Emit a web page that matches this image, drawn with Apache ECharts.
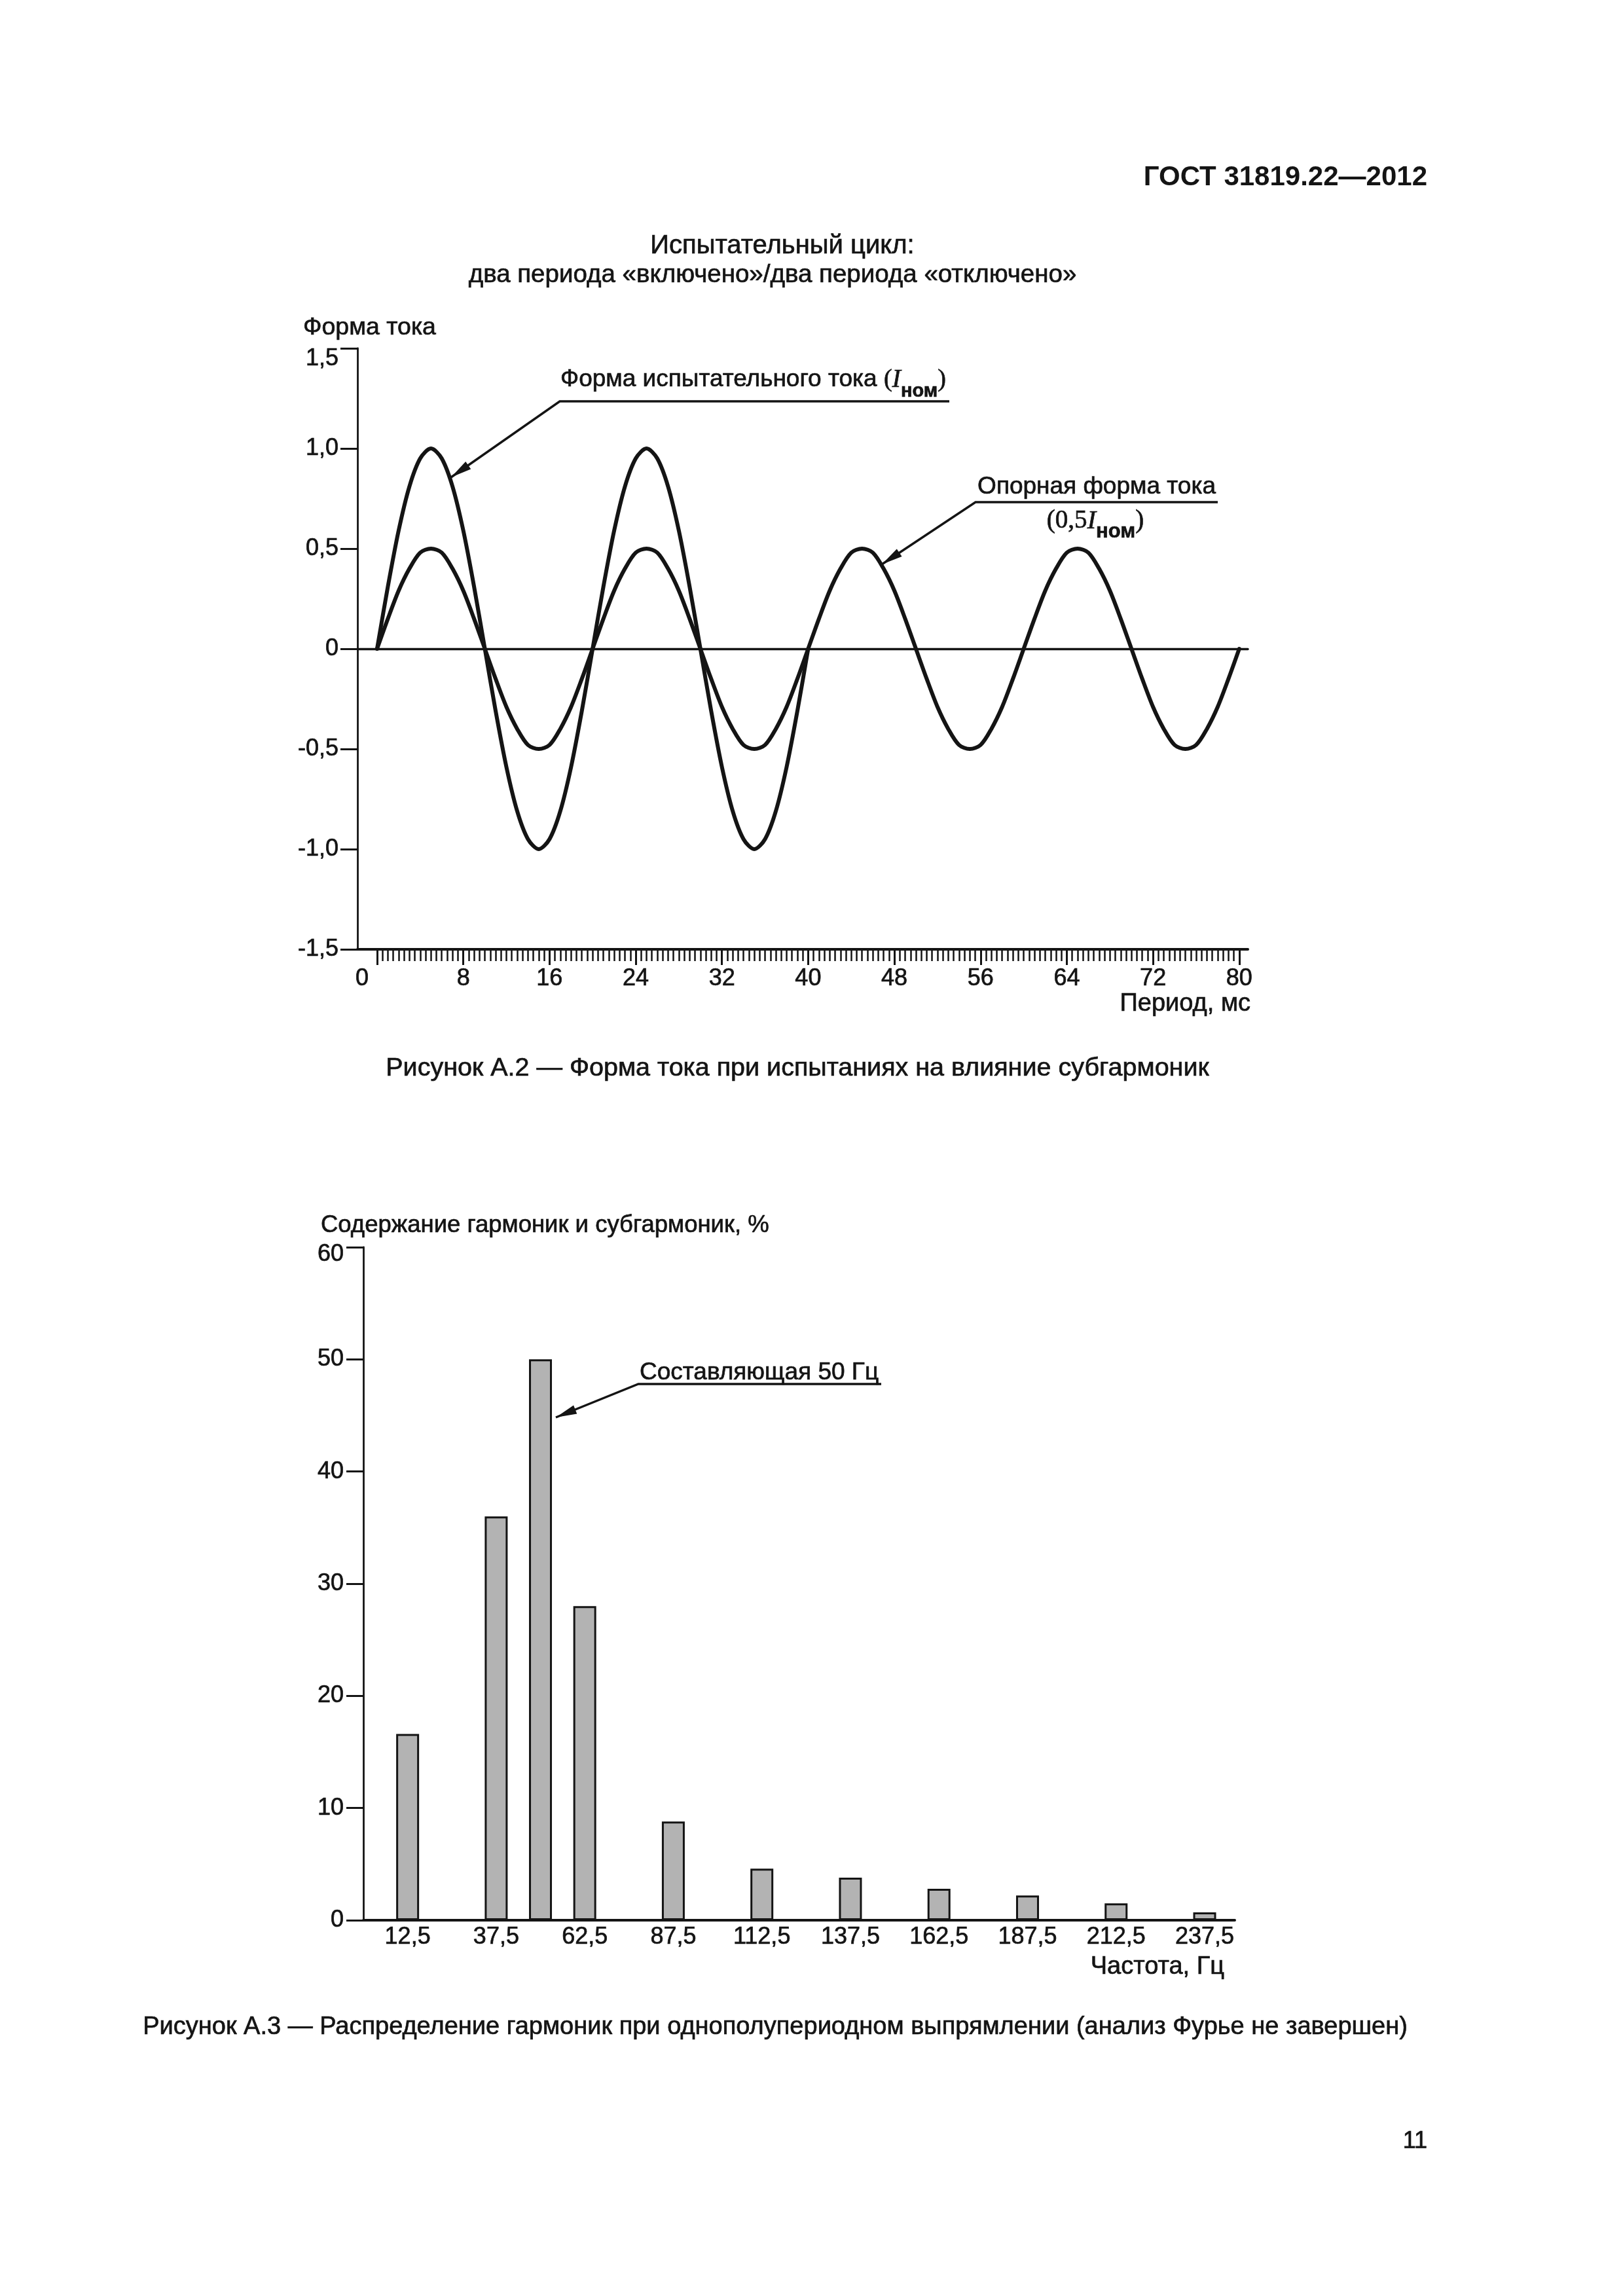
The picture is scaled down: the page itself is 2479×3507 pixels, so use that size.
<!DOCTYPE html>
<html><head><meta charset="utf-8">
<script src="https://cdn.jsdelivr.net/npm/echarts@6/dist/echarts.min.js"></script>
<style>html,body{margin:0;padding:0;background:#fff}#c{width:2479px;height:3507px}</style>
</head><body><div id="c"></div>
<script>
// ---------- Figure A.2 data ----------
const timeMs = [0,1,2,3,4,5,6,7,8,9,10,11,12,13,14,15,16,17,18,19,20,21,22,23,24,25,26,27,28,29,30,31,32,33,34,35,36,37,38,39,40,41,42,43,44,45,46,47,48,49,50,51,52,53,54,55,56,57,58,59,60,61,62,63,64,65,66,67,68,69,70,71,72,73,74,75,76,77,78,79,80];
// test current (I_nom): two periods "on", then "off"
const testCurrent = [0,0.31,0.59,0.81,0.95,1,0.95,0.81,0.59,0.31,0,-0.31,-0.59,-0.81,-0.95,-1,-0.95,-0.81,-0.59,-0.31,
  0,0.31,0.59,0.81,0.95,1,0.95,0.81,0.59,0.31,0,-0.31,-0.59,-0.81,-0.95,-1,-0.95,-0.81,-0.59,-0.31,0];
// reference current (0,5 I_nom)
const refCurrent = [0,0.15,0.29,0.4,0.48,0.5,0.48,0.4,0.29,0.15,0,-0.15,-0.29,-0.4,-0.48,-0.5,-0.48,-0.4,-0.29,-0.15,
  0,0.15,0.29,0.4,0.48,0.5,0.48,0.4,0.29,0.15,0,-0.15,-0.29,-0.4,-0.48,-0.5,-0.48,-0.4,-0.29,-0.15,
  0,0.15,0.29,0.4,0.48,0.5,0.48,0.4,0.29,0.15,0,-0.15,-0.29,-0.4,-0.48,-0.5,-0.48,-0.4,-0.29,-0.15,
  0,0.15,0.29,0.4,0.48,0.5,0.48,0.4,0.29,0.15,0,-0.15,-0.29,-0.4,-0.48,-0.5,-0.48,-0.4,-0.29,-0.15,0];
const timeTickValues = [0,8,16,24,32,40,48,56,64,72,80];
const timeTickLabels = ['0','8','16','24','32','40','48','56','64','72','80'];
const currentTickValues = [-1.5,-1,-0.5,0,0.5,1,1.5];
const currentTickLabels = ['-1,5','-1,0','-0,5','0','0,5','1,0','1,5'];

// ---------- Figure A.3 data ----------
const freqHz = [12.5,37.5,50,62.5,87.5,112.5,137.5,162.5,187.5,212.5,237.5];
const harmonicPct = [16.6,36,50,28,8.8,4.6,3.8,2.8,2.2,1.5,0.7];
const freqTickValues = [12.5,37.5,62.5,87.5,112.5,137.5,162.5,187.5,212.5,237.5];
const freqTickLabels = ['12,5','37,5','62,5','87,5','112,5','137,5','162,5','187,5','212,5','237,5'];
const pctTickValues = [0,10,20,30,40,50,60];
const pctTickLabels = ['0','10','20','30','40','50','60'];

const minorTimeTicks = [];
for (let v = 0; v <= 80; v += 0.5) minorTimeTicks.push(v);

const INK = '#141414';
const FONT = '"Liberation Sans", Arial, sans-serif';
const SERIF = '"Liberation Serif", "Times New Roman", serif';
const HEAVY = {stroke:INK, lineWidth:0.7};

function lookup(vals, labels, v) {
  for (let i = 0; i < vals.length; i++) if (Math.abs(vals[i] - v) < 1e-6) return labels[i];
  return '';
}
function arrowHead(tip, from, len, half) {
  const dx = tip[0] - from[0], dy = tip[1] - from[1];
  const d = Math.sqrt(dx*dx + dy*dy), ux = dx/d, uy = dy/d;
  const bx = tip[0] - ux*len, by = tip[1] - uy*len;
  return {type:'polygon', shape:{points:[tip,[bx - uy*half, by + ux*half],[bx + uy*half, by - ux*half]]}, style:{fill:INK}};
}
function leader(points) {
  return [
    {type:'polyline', shape:{points: points}, style:{stroke:INK, lineWidth:3.5, fill:null}},
    arrowHead(points[points.length-1], points[points.length-2], 32, 7)
  ];
}
function txt(x, y, text, size, align, extra) {
  return {type:'text', x:x, y:y, style:Object.assign({text:text, fill:INK, fontSize:size, fontFamily:FONT,
    align:align || 'left', verticalAlign:'middle'}, HEAVY, extra || {})};
}

const chart = echarts.init(document.getElementById('c'), null, {renderer:'canvas', width:2479, height:3507});

const xTop = {gridIndex:0, type:'value', min:-1.82, max:80.8, position:'bottom', splitLine:{show:false}};
const labelFont = {color:INK, fontSize:36, fontFamily:FONT, textBorderColor:INK, textBorderWidth:0.7};

const option = {
  backgroundColor:'#ffffff',
  animation:false,
  grid:[
    {left:546, top:532, width:1360, height:918},
    {left:555, top:1905, width:1331, height:1028}
  ],
  xAxis:[
    Object.assign({}, xTop, {
      axisLine:{onZero:false, lineStyle:{color:INK, width:4}},
      axisTick:{show:true, customValues:timeTickValues, length:24, lineStyle:{color:INK, width:3}},
      axisLabel:Object.assign({show:true, customValues:timeTickValues, margin:27,
        formatter:function(v){ const s = lookup(timeTickValues, timeTickLabels, v); return v === 0 ? '{z|' + s + '}' : s; },
        rich:{z:Object.assign({padding:[0,46,0,0]}, labelFont)}}, labelFont)
    }),
    Object.assign({}, xTop, {
      axisLine:{show:false, onZero:false},
      axisTick:{show:true, customValues:minorTimeTicks, length:18, lineStyle:{color:INK, width:2.5}},
      axisLabel:{show:false}
    }),
    Object.assign({}, xTop, {
      axisLine:{show:true, onZero:true, lineStyle:{color:INK, width:3.3}},
      axisTick:{show:false}, axisLabel:{show:false}
    }),
    {gridIndex:1, type:'value', min:0, max:246, splitLine:{show:false},
      axisLine:{onZero:false, lineStyle:{color:INK, width:4}},
      axisTick:{show:false},
      axisLabel:Object.assign({show:true, customValues:freqTickValues, margin:8,
        formatter:function(v){ return lookup(freqTickValues, freqTickLabels, v); }}, labelFont)
    }
  ],
  yAxis:[
    {gridIndex:0, type:'value', min:-1.5, max:1.5, interval:0.5, splitLine:{show:false},
      axisLine:{onZero:false, lineStyle:{color:INK, width:2.8}},
      axisTick:{show:true, length:26, lineStyle:{color:INK, width:3}},
      axisLabel:Object.assign({margin:29,
        formatter:function(v){ const s = lookup(currentTickValues, currentTickLabels, v); return v === 1.5 ? '{t|' + s + '}' : s; },
        rich:{t:Object.assign({padding:[32,0,0,0]}, labelFont)}}, labelFont)
    },
    {gridIndex:1, type:'value', min:0, max:60, interval:10, splitLine:{show:false},
      axisLine:{onZero:false, lineStyle:{color:INK, width:2.8}},
      axisTick:{show:true, length:26, lineStyle:{color:INK, width:3}},
      axisLabel:Object.assign({margin:30,
        formatter:function(v){ const s = lookup(pctTickValues, pctTickLabels, v); return v === 60 ? '{t|' + s + '}' : s; },
        rich:{t:Object.assign({padding:[22,0,0,0]}, labelFont)}}, labelFont)
    }
  ],
  series:[
    {name:'Форма испытательного тока', type:'line', xAxisIndex:0, yAxisIndex:0, smooth:0.3, symbol:'none',
      lineStyle:{color:INK, width:6, cap:'round', join:'round'},
      data: testCurrent.map(function(v,i){ return [timeMs[i], v]; })},
    {name:'Опорная форма тока', type:'line', xAxisIndex:0, yAxisIndex:0, smooth:0.3, symbol:'none',
      lineStyle:{color:INK, width:6, cap:'round', join:'round'},
      data: refCurrent.map(function(v,i){ return [timeMs[i], v]; })},
    {name:'Содержание гармоник', type:'bar', xAxisIndex:3, yAxisIndex:1, barWidth:35,
      itemStyle:{color:'#b3b3b3', borderColor:INK, borderWidth:3},
      data: harmonicPct.map(function(v,i){ return [freqHz[i], v]; })}
  ],
  graphic:{elements:[].concat(
    [
      txt(2180, 271, 'ГОСТ 31819.22—2012', 42, 'right', {fontWeight:'bold', lineWidth:0}),
      txt(1195, 376, 'Испытательный цикл:', 40, 'center'),
      txt(1180, 420, 'два периода «включено»/два периода «отключено»', 38.5, 'center'),
      txt(463, 501, 'Форма тока', 37.5, 'left'),
      txt(1910, 1534, 'Период, мс', 38, 'right'),
      txt(1218, 1632, 'Рисунок А.2 — Форма тока при испытаниях на влияние субгармоник', 39.5, 'center'),
      txt(490, 1872, 'Содержание гармоник и субгармоник, %', 36.5, 'left'),
      txt(1870, 3005, 'Частота, Гц', 38, 'right'),
      txt(1184, 3097, 'Рисунок А.3 — Распределение гармоник при однополупериодном выпрямлении (анализ Фурье не завершен)', 38, 'center'),
      txt(2180, 3271, '11', 36, 'right'),
      txt(856, 580, '{a|Форма испытательного тока }{p|(}{i|I}{s|ном}{p|)}', 37, 'left', {rich:{
        a:Object.assign({fontSize:37, fontFamily:FONT, fill:INK}, HEAVY),
        p:{fontSize:38, fontFamily:SERIF, fill:INK},
        i:{fontSize:40, fontFamily:SERIF, fontStyle:'italic', fill:INK},
        s:{fontSize:29, fontFamily:FONT, fontWeight:'bold', fill:INK, padding:[36,0,0,0]}
      }}),
      txt(1857, 744, 'Опорная форма тока', 37, 'right'),
      txt(1673, 796, '{p|(0,5}{i|I}{s|ном}{p|)}', 37, 'center', {rich:{
        p:{fontSize:39, fontFamily:SERIF, fill:INK},
        i:{fontSize:41, fontFamily:SERIF, fontStyle:'italic', fill:INK},
        s:{fontSize:31, fontFamily:FONT, fontWeight:'bold', fill:INK, padding:[32,0,0,0]}
      }}),
      txt(977, 2097, 'Составляющая 50 Гц', 37, 'left')
    ],
    leader([[1450,613],[855,613],[689,729]]),
    leader([[1860,767],[1490,767],[1347,862]]),
    leader([[1346,2114],[975,2114],[849,2165]])
  )}
};
chart.setOption(option);
</script>
</body></html>
